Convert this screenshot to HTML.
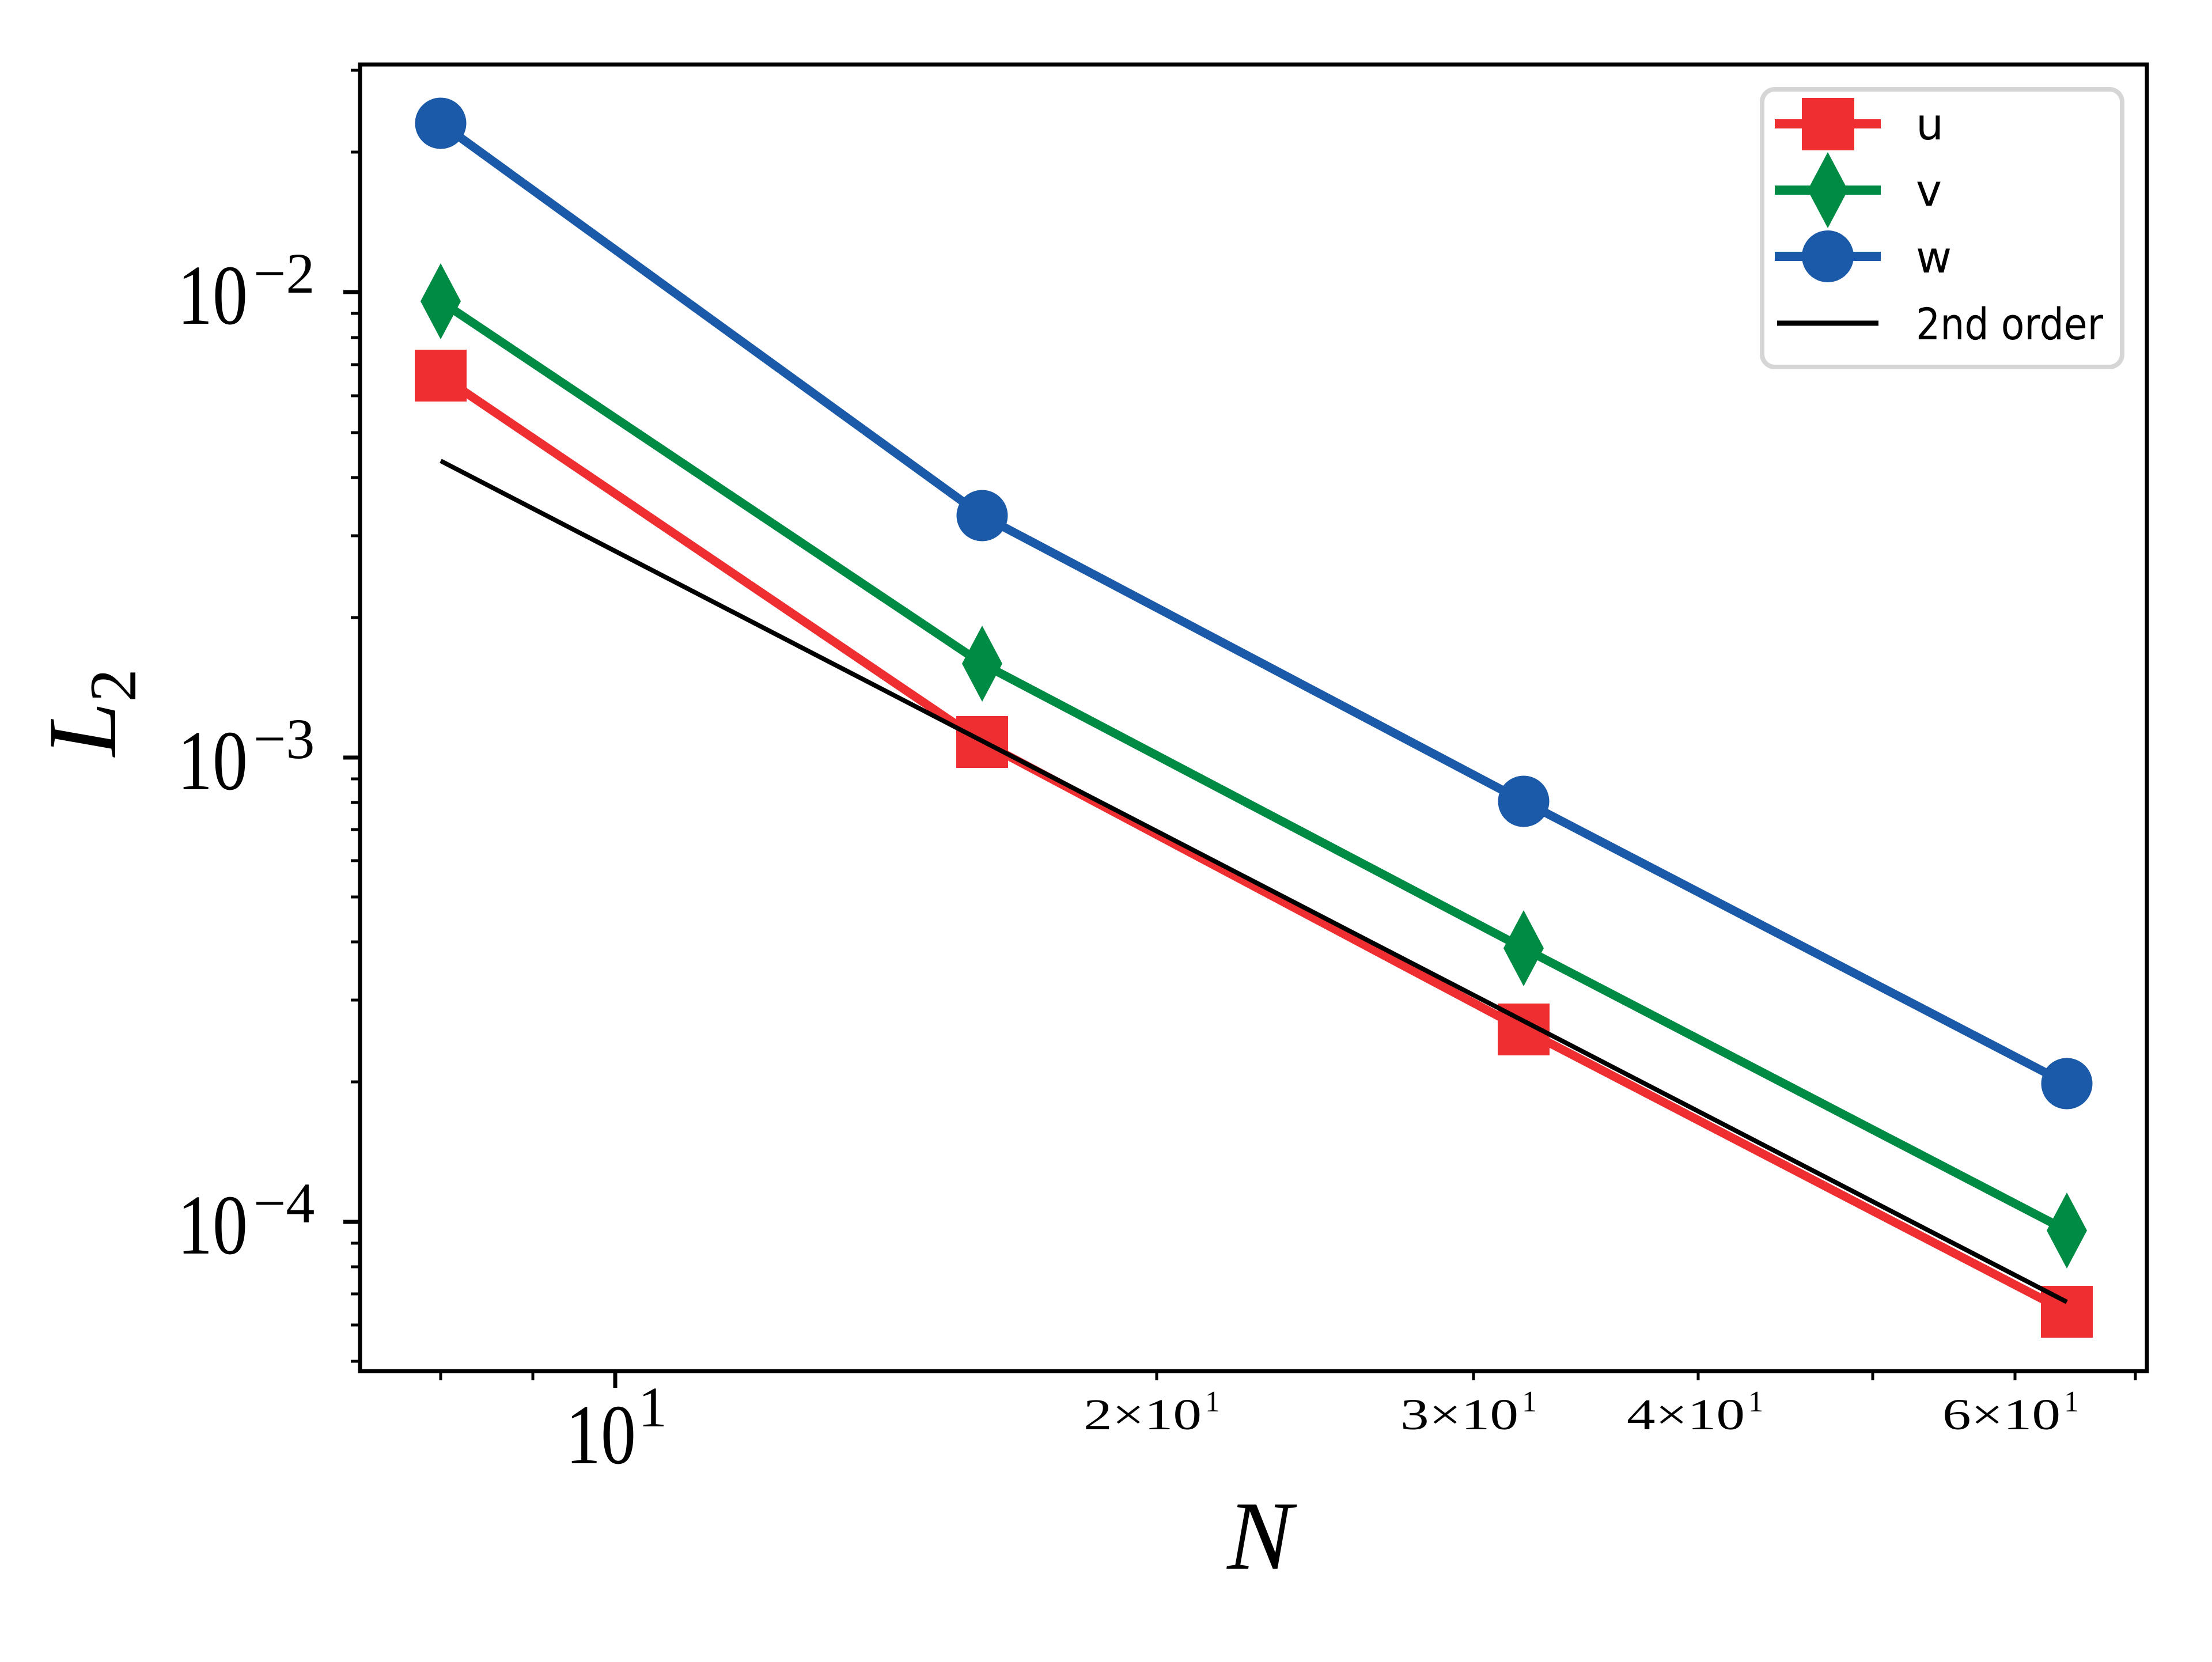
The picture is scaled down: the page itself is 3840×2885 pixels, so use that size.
<!DOCTYPE html>
<html><head><meta charset="utf-8"><style>html,body{margin:0;padding:0;background:#fff}</style></head>
<body>
<svg width="3840" height="2880" viewBox="0 0 3840 2880" xmlns="http://www.w3.org/2000/svg">
<rect width="3840" height="2880" fill="#fff"/>
<g fill="none" stroke-linejoin="round">
<polyline points="765,214 1705,895 2645,1391 3588,1881" stroke="#1B5AA9" stroke-width="15"/>
<polyline points="765,523 1705,1152 2645,1646 3588,2136" stroke="#008B45" stroke-width="15"/>
<polyline points="765,652 1705,1288 2645,1787 3588,2277" stroke="#EE2E31" stroke-width="15"/>
</g>
<g fill="#1B5AA9" stroke="#1B5AA9" stroke-width="3">
<circle cx="765" cy="214" r="43"/><circle cx="1705" cy="895" r="43"/><circle cx="2645" cy="1391" r="43"/><circle cx="3588" cy="1881" r="43"/>
</g>
<g fill="#008B45">
<polygon points="765,457 800,523 765,589 730,523"/>
<polygon points="1705,1086 1740,1152 1705,1218 1670,1152"/>
<polygon points="2645,1580 2680,1646 2645,1712 2610,1646"/>
<polygon points="3588,2070 3623,2136 3588,2202 3553,2136"/>
</g>
<g fill="#EE2E31">
<rect x="720" y="607" width="90" height="90"/>
<rect x="1660" y="1243" width="90" height="90"/>
<rect x="2600" y="1742" width="90" height="90"/>
<rect x="3543" y="2232" width="90" height="90"/>
</g>
<line x1="765" y1="800" x2="3588" y2="2260" stroke="#000" stroke-width="8"/>
<rect x="625" y="112" width="3102" height="2268" fill="none" stroke="#000" stroke-width="7"/>
<g stroke="#000" stroke-width="7">
<line x1="596" y1="507" x2="625" y2="507"/>
<line x1="596" y1="1315" x2="625" y2="1315"/>
<line x1="596" y1="2121" x2="625" y2="2121"/>
<line x1="1068" y1="2380" x2="1068" y2="2409"/>
</g>
<g stroke="#000" stroke-width="5">
<line x1="609" y1="264" x2="625" y2="264"/>
<line x1="609" y1="122" x2="625" y2="122"/>
<line x1="609" y1="1072" x2="625" y2="1072"/>
<line x1="609" y1="930" x2="625" y2="930"/>
<line x1="609" y1="829" x2="625" y2="829"/>
<line x1="609" y1="751" x2="625" y2="751"/>
<line x1="609" y1="687" x2="625" y2="687"/>
<line x1="609" y1="633" x2="625" y2="633"/>
<line x1="609" y1="586" x2="625" y2="586"/>
<line x1="609" y1="544" x2="625" y2="544"/>
<line x1="609" y1="1878" x2="625" y2="1878"/>
<line x1="609" y1="1736" x2="625" y2="1736"/>
<line x1="609" y1="1635" x2="625" y2="1635"/>
<line x1="609" y1="1557" x2="625" y2="1557"/>
<line x1="609" y1="1494" x2="625" y2="1494"/>
<line x1="609" y1="1440" x2="625" y2="1440"/>
<line x1="609" y1="1393" x2="625" y2="1393"/>
<line x1="609" y1="1352" x2="625" y2="1352"/>
<line x1="609" y1="2363" x2="625" y2="2363"/>
<line x1="609" y1="2300" x2="625" y2="2300"/>
<line x1="609" y1="2246" x2="625" y2="2246"/>
<line x1="609" y1="2199" x2="625" y2="2199"/>
<line x1="609" y1="2158" x2="625" y2="2158"/>
<line x1="765" y1="2380" x2="765" y2="2396"/>
<line x1="925" y1="2380" x2="925" y2="2396"/>
<line x1="2008" y1="2380" x2="2008" y2="2396"/>
<line x1="2558" y1="2380" x2="2558" y2="2396"/>
<line x1="2948" y1="2380" x2="2948" y2="2396"/>
<line x1="3251" y1="2380" x2="3251" y2="2396"/>
<line x1="3498" y1="2380" x2="3498" y2="2396"/>
<line x1="3707" y1="2380" x2="3707" y2="2396"/>
</g>
<g font-family="Liberation Serif, serif" fill="#000">
<text x="308" y="562" font-size="148" textLength="122" lengthAdjust="spacingAndGlyphs">10</text>
<text x="440" y="508" font-size="100">−2</text>
<text x="308" y="1370" font-size="148" textLength="122" lengthAdjust="spacingAndGlyphs">10</text>
<text x="440" y="1316" font-size="100">−3</text>
<text x="308" y="2176" font-size="148" textLength="122" lengthAdjust="spacingAndGlyphs">10</text>
<text x="440" y="2122" font-size="100">−4</text>
<text x="982" y="2540" font-size="148" textLength="122" lengthAdjust="spacingAndGlyphs">10</text>
<text x="1108" y="2476" font-size="100">1</text>
<g font-size="76">
<text x="1881" y="2481" textLength="205" lengthAdjust="spacingAndGlyphs">2×10</text><text x="2092" y="2450" font-size="52">1</text>
<text x="2431" y="2481" textLength="205" lengthAdjust="spacingAndGlyphs">3×10</text><text x="2642" y="2450" font-size="52">1</text>
<text x="2824" y="2481" textLength="205" lengthAdjust="spacingAndGlyphs">4×10</text><text x="3035" y="2450" font-size="52">1</text>
<text x="3372" y="2481" textLength="205" lengthAdjust="spacingAndGlyphs">6×10</text><text x="3583" y="2450" font-size="52">1</text>
</g>
<text x="2187" y="2723" font-size="170" font-style="italic" text-anchor="middle">N</text>
<g transform="translate(200,1237) rotate(-90)">
<text x="0" y="0" font-size="170" font-style="italic" text-anchor="middle">L<tspan font-size="115" dy="35" font-style="normal">2</tspan></text>
</g>
</g>
<rect x="3059" y="155" width="625" height="482" rx="22" fill="#fff" fill-opacity="0.8" stroke="#d6d6d6" stroke-width="8"/>
<line x1="3081" y1="215" x2="3265" y2="215" stroke="#EE2E31" stroke-width="16"/>
<rect x="3128" y="170" width="91" height="91" fill="#EE2E31"/>
<line x1="3081" y1="330" x2="3265" y2="330" stroke="#008B45" stroke-width="16"/>
<polygon points="3173,264 3208,330 3173,396 3138,330" fill="#008B45"/>
<line x1="3081" y1="445" x2="3265" y2="445" stroke="#1B5AA9" stroke-width="16"/>
<circle cx="3173" cy="445" r="45" fill="#1B5AA9"/>
<line x1="3085" y1="561" x2="3261" y2="561" stroke="#000" stroke-width="9"/>
<g font-family="DejaVu Sans, sans-serif" font-size="76" fill="#000">
<text x="3326" y="242">u</text>
<text x="3326" y="357">v</text>
<text x="3326" y="473">w</text>
<text x="3326" y="589" textLength="325" lengthAdjust="spacingAndGlyphs">2nd order</text>
</g>
</svg>
</body></html>
